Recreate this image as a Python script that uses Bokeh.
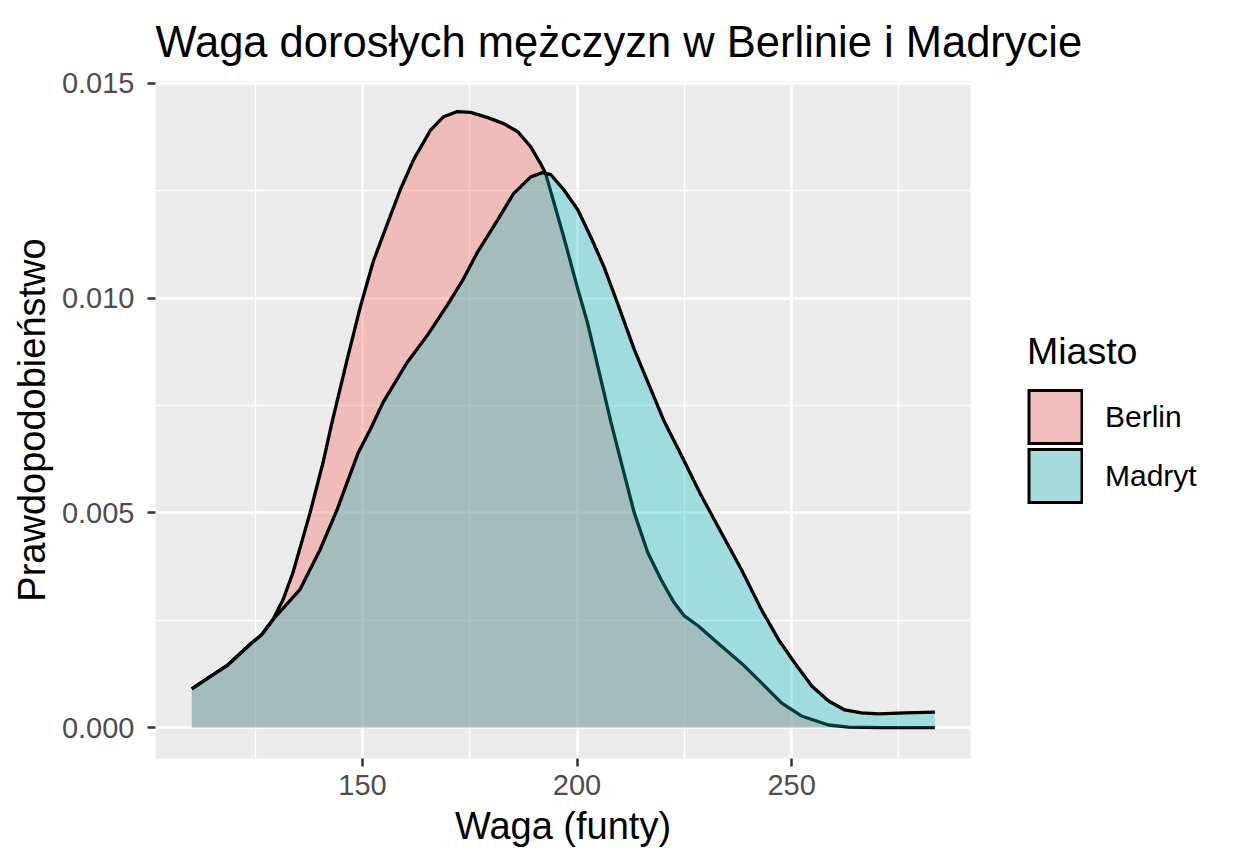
from bokeh.plotting import figure
from bokeh.models import (Range1d, FixedTicker, PrintfTickFormatter, Legend,
                          LegendItem, ColumnDataSource)
from bokeh.embed import file_html
from bokeh.resources import INLINE

# ---- data ----
berlin_x = [110.2, 114.4, 118.4, 123.7, 126.5, 129.1, 131.5, 133.8, 137.8, 140.8,
            142.9, 146.4, 149.5, 152.5, 155.8, 158.8, 161.9, 165.8, 168.9, 172.1,
            175.2, 179.2, 182.9, 186.2, 189.2, 191.5, 192.7, 196.9, 200.2, 202.5,
            207.9, 210.9, 213.3, 216.5, 219.6, 222.6, 225.0, 228.2, 233.6, 238.3,
            243.0, 247.7, 252.3, 258.6, 263.3, 271.0, 283.4]
berlin_y = [0.00090, 0.00118, 0.00144, 0.00193, 0.00216, 0.00251, 0.00298, 0.00361,
            0.00501, 0.00617, 0.00711, 0.00856, 0.00980, 0.01085, 0.01173, 0.01252,
            0.01322, 0.01390, 0.01422, 0.01434, 0.01432, 0.01420, 0.01406, 0.01387,
            0.01352, 0.01313, 0.01289, 0.01142, 0.01020, 0.00940, 0.00711, 0.00594,
            0.00501, 0.00407, 0.00344, 0.00291, 0.00260, 0.00237, 0.00190, 0.00150,
            0.00104, 0.00057, 0.00027, 0.00006, 0.00001, 0.00000, 0.00000]

madryt_x = [110.2, 114.4, 118.4, 123.7, 126.5, 129.1, 135.4, 140.1, 144.1, 149.0,
            151.8, 154.8, 160.4, 165.1, 169.8, 173.5, 176.8, 181.5, 185.2, 189.2,
            192.0, 193.9, 196.9, 200.2, 203.2, 206.3, 209.5, 213.3, 220.3, 224.3,
            228.9, 233.6, 238.3, 243.0, 247.0, 250.7, 254.7, 258.6, 262.4, 266.3,
            270.3, 276.4, 283.4]
madryt_y = [0.00090, 0.00118, 0.00144, 0.00193, 0.00216, 0.00251, 0.00321, 0.00414,
            0.00508, 0.00640, 0.00694, 0.00757, 0.00850, 0.00913, 0.00984, 0.01044,
            0.01107, 0.01182, 0.01243, 0.01282, 0.01292, 0.01287, 0.01252, 0.01205,
            0.01142, 0.01072, 0.00986, 0.00881, 0.00713, 0.00634, 0.00541, 0.00454,
            0.00368, 0.00274, 0.00204, 0.00151, 0.00097, 0.00062, 0.00041, 0.00034,
            0.00032, 0.00034, 0.00036]

cities = ["Berlin", "Madryt"]
key_colors = ["#F2BEBB", "#A6DCDD"]
x_ticks = [150, 200, 250]
x_minor = [125, 175, 225, 275]
y_ticks = [0.0, 0.005, 0.010, 0.015]
y_minor = [0.0025, 0.0075, 0.0125]

title_text = "Waga dorosłych mężczyzn w Berlinie i Madrycie"
x_label = "Waga (funty)"
y_label = "Prawdopodobieństwo"
legend_title = "Miasto"

FONT = "Liberation Sans"

p = figure(frame_width=815, frame_height=677,
           x_range=Range1d(101.75, 291.7), y_range=Range1d(-0.00072, 0.01504),
           output_backend="svg", toolbar_location=None,
           min_border_left=155, min_border_top=80, min_border_bottom=92,
           min_border_right=240)

p.background_fill_color = "#EBEBEB"
p.border_fill_color = "white"
p.outline_line_color = None

p.title.text = title_text
p.title.text_font = FONT
p.title.text_font_size = "43.5px"
p.title.text_font_style = "normal"
p.title.text_color = "black"
p.title.align = "left"
p.title.standoff = 31

# axes
p.xaxis.ticker = FixedTicker(ticks=x_ticks, minor_ticks=x_minor)
p.yaxis.ticker = FixedTicker(ticks=y_ticks, minor_ticks=y_minor)
p.yaxis.formatter = PrintfTickFormatter(format="%.3f")
p.xaxis.axis_label = x_label
p.yaxis.axis_label = y_label
for ax in (p.xaxis, p.yaxis):
    ax.axis_line_color = None
    ax.major_tick_line_color = "#333333"
    ax.major_tick_line_width = 2.5
    ax.major_tick_out = 8
    ax.major_tick_in = 0
    ax.minor_tick_line_color = None
    ax.major_label_text_font = FONT
    ax.major_label_text_font_size = "29px"
    ax.major_label_text_color = "#4D4D4D"
    ax.axis_label_text_font = FONT
    ax.axis_label_text_font_size = "38px"
    ax.axis_label_text_font_style = "normal"
    ax.axis_label_text_color = "black"
p.xaxis.major_label_standoff = 8
p.xaxis.axis_label_standoff = 7
p.yaxis.major_label_standoff = 13
p.yaxis.axis_label_standoff = 6

for g in (p.xgrid, p.ygrid):
    g.grid_line_color = "white"
    g.grid_line_width = 2.6
    g.minor_grid_line_color = "white"
    g.minor_grid_line_width = 1.3

# densities: fill then upper outline, per group
b_src = ColumnDataSource(dict(x=berlin_x, y=berlin_y))
m_src = ColumnDataSource(dict(x=madryt_x, y=madryt_y))

p.varea(x="x", y1=0, y2="y", source=b_src, fill_color="#F8766D", fill_alpha=0.4)
p.line(x="x", y="y", source=b_src, line_color="black", line_width=3.3)
p.varea(x="x", y1=0, y2="y", source=m_src, fill_color="#00BFC4", fill_alpha=0.32)
p.line(x="x", y="y", source=m_src, line_color="black", line_width=3.3)

# legend keys: a wide black stroke (border) under a dashed coloured stroke (fill),
# both placed far outside the visible ranges so only the legend shows them
items = []
for name, col in zip(cities, key_colors):
    border = p.line(x=[0, 1], y=[-1, -1], line_color="black", line_width=56)
    fill = p.line(x=[0, 1], y=[-1, -1], line_color=col, line_width=50,
                  line_dash="50 100", line_dash_offset=-3)
    items.append(LegendItem(label=name, renderers=[border, fill]))

legend = Legend(items=items, title=legend_title, location=(57, 253),
                orientation="vertical")
legend.title_text_font = FONT
legend.title_text_font_size = "37.5px"
legend.title_text_font_style = "normal"
legend.title_text_color = "black"
legend.title_standoff = 14
legend.label_text_font = FONT
legend.label_text_font_size = "30px"
legend.label_text_color = "black"
legend.glyph_width = 56
legend.glyph_height = 59
legend.label_standoff = 22
legend.spacing = 0
legend.padding = 0
legend.margin = 0
legend.border_line_color = None
legend.background_fill_color = "white"
legend.background_fill_alpha = 1.0
p.add_layout(legend, "right")

open("out.html", "w").write(file_html(p, INLINE))
